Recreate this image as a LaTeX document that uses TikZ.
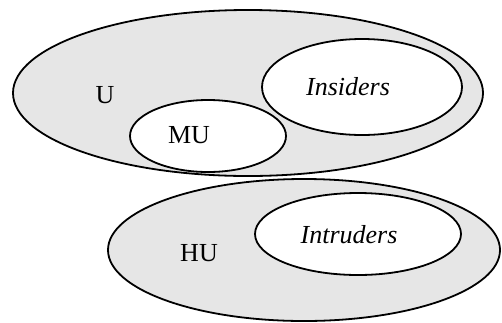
\documentclass[tikz,border=0pt]{standalone}
\usepackage{fontspec}
\setmainfont{Liberation Serif}
\usetikzlibrary{shapes.geometric}
\definecolor{setgray}{RGB}{230,230,230}
\begin{document}
\begin{tikzpicture}[x=1pt,y=-1pt,
  setshape/.style={ellipse, draw=black, line width=1.8pt, inner sep=0pt},
  outer/.style={setshape, fill=setgray},
  inner/.style={setshape, fill=white},
  lbl/.style={font=\fontsize{26}{29}\selectfont, inner sep=0pt}]
  \useasboundingbox (0,0) rectangle (502,322);
  % universe of users
  \node[outer, minimum width=470pt, minimum height=166pt] (U) at (248,93) {};
  \node[inner, minimum width=200pt, minimum height=96pt] (ins) at (362,87) {};
  \node[inner, minimum width=156pt, minimum height=72pt] (mu) at (208,136) {};
  \node[lbl] (tU) at (105,95) {U};
  \node[lbl] (tins) at (348,87) {\itshape Insiders};
  \node[lbl] (tmu) at (189,135) {MU};
  % hostile users
  \node[outer, minimum width=392pt, minimum height=142pt] (hu) at (304,250) {};
  \node[inner, minimum width=206pt, minimum height=82pt] (intr) at (358,234) {};
  \node[lbl] (thu) at (199,253) {HU};
  \node[lbl] (tintr) at (349,235) {\itshape Intruders};
\end{tikzpicture}
\end{document}
